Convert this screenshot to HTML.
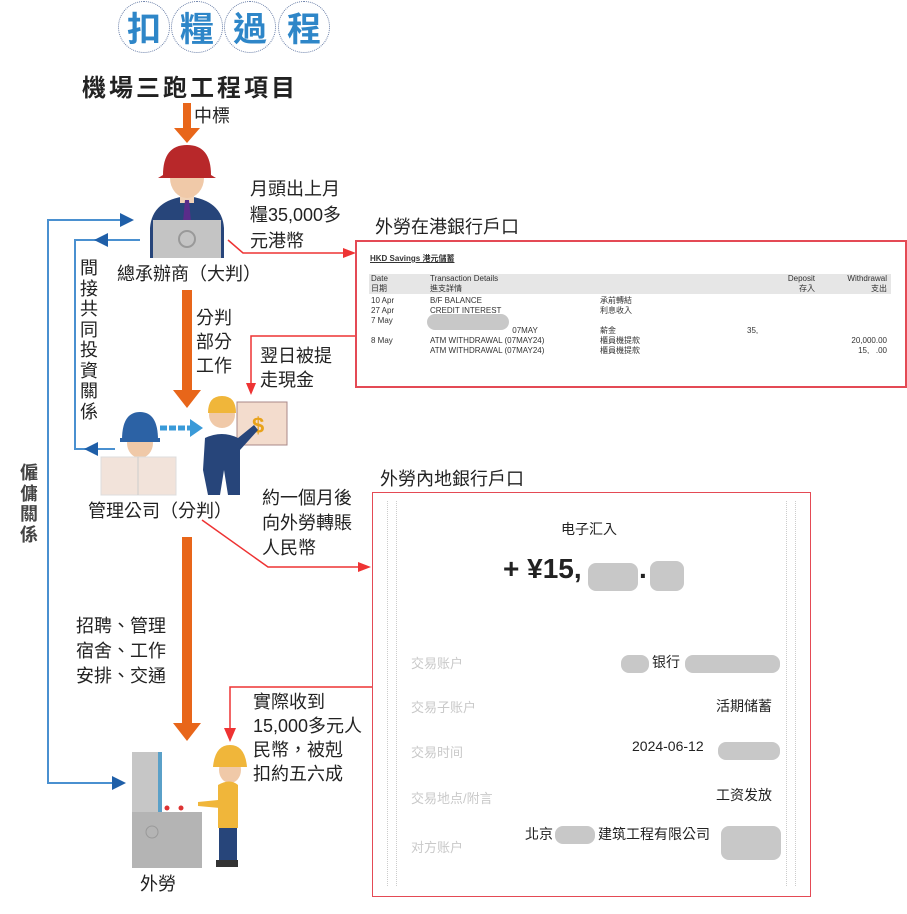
<!DOCTYPE html>
<html><head><meta charset="utf-8">
<style>
*{margin:0;padding:0;box-sizing:border-box}
body{width:907px;height:914px;background:#fff;position:relative;overflow:hidden;font-family:"Liberation Sans","Noto Sans CJK TC",sans-serif;color:#222}
.t{position:absolute;white-space:nowrap}
.c{font-size:18px;line-height:25px}
.circ{position:absolute;width:52px;height:52px;border-radius:50%;border:1px dotted #6a7fa8;color:#2e86c8;font-weight:bold;font-size:34px;text-align:center;line-height:50px;font-family:"Noto Sans CJK TC",sans-serif}
.box{position:absolute;border:2px solid #e44a55}
.sm{font-size:8px;line-height:10px;position:absolute;white-space:nowrap;color:#333}
.blur{position:absolute;background:#c8c8c8;border-radius:8px}
.g{color:#c9c9c9}
</style></head><body>
<div class="circ" style="left:118px;top:1px">扣</div>
<div class="circ" style="left:171px;top:1px">糧</div>
<div class="circ" style="left:224px;top:1px">過</div>
<div class="circ" style="left:278px;top:1px">程</div>

<div class="t" style="left:82px;top:68px;font-size:24px;font-weight:bold;letter-spacing:3px">機場三跑工程項目</div>
<div class="t c" style="left:194px;top:104px">中標</div>

<svg width="907" height="914" style="position:absolute;left:0;top:0">
<rect x="183" y="103" width="8" height="26" fill="#e8661a"/><polygon points="174,128 200,128 187,143" fill="#e8661a"/>
<rect x="182" y="290" width="10" height="102" fill="#e8661a"/><polygon points="173,390 201,390 187,408" fill="#e8661a"/>
<rect x="182" y="537" width="10" height="188" fill="#e8661a"/><polygon points="173,723 201,723 187,741" fill="#e8661a"/>
<polyline points="123,783 48,783 48,220 123,220" fill="none" stroke="#4a90d0" stroke-width="2"/>
<polygon points="120,213 134,220 120,227" fill="#1f5fa8"/>
<polygon points="112,776 126,783 112,790" fill="#1f5fa8"/>
<polyline points="140,240 75,240 75,449 115,449" fill="none" stroke="#4a90d0" stroke-width="2"/>
<polygon points="108,233 94,240 108,247" fill="#1f5fa8"/>
<polygon points="98,442 84,449 98,456" fill="#1f5fa8"/>
<line x1="160" y1="428" x2="192" y2="428" stroke="#3a9ad8" stroke-width="5" stroke-dasharray="7,2"/>
<polygon points="190,419 203,428 190,437" fill="#3a9ad8"/>
<polyline points="228,240 243,253 345,253" fill="none" stroke="#e33" stroke-width="1.5"/>
<polygon points="343,248 356,253 343,258" fill="#e33"/>
<polyline points="355,336 251,336 251,385" fill="none" stroke="#e33" stroke-width="1.5"/>
<polygon points="246,383 251,395 256,383" fill="#e33"/>
<polyline points="202,520 268,567 360,567" fill="none" stroke="#e33" stroke-width="1.5"/>
<polygon points="358,562 371,567 358,572" fill="#e33"/>
<polyline points="372,687 230,687 230,730" fill="none" stroke="#e33" stroke-width="1.5"/>
<polygon points="224,728 230,742 236,728" fill="#e33"/>
<path d="M150,258 L150,228 Q152,200 187,196 Q222,200 224,228 L224,258 Z" fill="#27457a"/>
<rect x="180" y="193" width="14" height="10" fill="#f1d3b8"/>
<polygon points="185,200 189,200 191,222 183,222" fill="#5a2c8a"/>
<ellipse cx="187" cy="178" rx="17" ry="20" fill="#f0c9a8"/>
<path d="M163,175 Q163,145 187,145 Q211,145 211,175 L216,178 L158,178 Z" fill="#b8282a"/>
<rect x="153" y="220" width="68" height="38" fill="#c4c4c4"/>
<circle cx="187" cy="239" r="8" fill="none" stroke="#999" stroke-width="2"/>
<ellipse cx="140" cy="443" rx="13" ry="15" fill="#f0c9a8"/>
<path d="M122,440 Q122,412 140,412 Q158,412 158,440 Z" fill="#2c62a5"/>
<rect x="120" y="438" width="40" height="4" fill="#2c62a5"/>
<path d="M118,490 L120,465 Q140,458 160,465 L162,490Z" fill="#27457a"/>
<rect x="101" y="457" width="75" height="38" fill="#f2e3da" stroke="#ddd"/>
<line x1="138" y1="457" x2="138" y2="495" stroke="#ccc"/>
<rect x="237" y="402" width="50" height="43" fill="#f3dccd" stroke="#a88"/>
<text x="252" y="433" font-size="22" font-weight="bold" fill="#e8a21a" font-family="Liberation Sans">$</text>
<ellipse cx="222" cy="415" rx="13" ry="13" fill="#f0c9a8"/>
<path d="M208,413 Q208,396 222,396 Q236,396 236,413 Z" fill="#f0b63a"/>
<path d="M203,470 L205,438 Q222,430 238,438 L254,425 L258,430 L240,450 L240,495 L228,495 L224,470 L220,495 L208,495 Z" fill="#27457a"/>
<rect x="132" y="752" width="30" height="62" fill="#c6c6c6"/>
<rect x="158" y="752" width="4" height="62" fill="#5aa0c8"/>
<rect x="132" y="812" width="70" height="56" fill="#b4b4b4"/>
<circle cx="167" cy="808" r="2.5" fill="#d33"/><circle cx="181" cy="808" r="2.5" fill="#d33"/>
<circle cx="152" cy="832" r="6" fill="none" stroke="#999"/>
<ellipse cx="230" cy="770" rx="11" ry="13" fill="#f0c9a8"/>
<path d="M213,767 Q215,745 230,745 Q245,745 247,767 Z" fill="#f0b63a"/>
<path d="M218,785 Q230,778 238,785 L238,828 L218,828 Z" fill="#f0b63a"/>
<path d="M218,800 L198,802 L198,806 L220,808Z" fill="#f0b63a"/>
<rect x="219" y="828" width="18" height="33" fill="#27457a"/>
<rect x="216" y="860" width="22" height="7" fill="#333"/>
</svg>

<div class="t c" style="left:250px;top:176px;line-height:26px">月頭出上月<br>糧35,000多<br>元港幣</div>
<div class="t c" style="left:117px;top:262px">總承辦商（大判）</div>
<div class="t c" style="left:80px;top:258px;line-height:20.5px;white-space:normal;width:20px">間接共同投資關係</div>
<div class="t c" style="left:20px;top:463px;line-height:20.5px;white-space:normal;width:20px;font-weight:bold;color:#444">僱傭關係</div>
<div class="t c" style="left:196px;top:306px;line-height:24px">分判<br>部分<br>工作</div>
<div class="t c" style="left:260px;top:344px;line-height:24px">翌日被提<br>走現金</div>
<div class="t c" style="left:88px;top:499px">管理公司（分判）</div>
<div class="t c" style="left:262px;top:486px;line-height:25px">約一個月後<br>向外勞轉賬<br>人民幣</div>
<div class="t c" style="left:76px;top:614px;line-height:25px">招聘、管理<br>宿舍、工作<br>安排、交通</div>
<div class="t c" style="left:253px;top:690px;line-height:24px">實際收到<br>15,000多元人<br>民幣，被剋<br>扣約五六成</div>
<div class="t c" style="left:140px;top:872px">外勞</div>

<div class="t c" style="left:375px;top:215px">外勞在港銀行戶口</div>
<div class="box" style="left:355px;top:240px;width:552px;height:148px">
 <div class="sm" style="left:13px;top:12px;font-weight:bold;text-decoration:underline">HKD Savings 港元儲蓄</div>
 <div style="position:absolute;left:12px;top:32px;width:522px;height:20px;background:#e6e6e6"></div>
 <div class="sm" style="left:14px;top:32px">Date<br>日期</div>
 <div class="sm" style="left:73px;top:32px">Transaction Details<br>進支詳情</div>
 <div class="sm" style="left:398px;top:32px;text-align:right;width:60px">Deposit<br>存入</div>
 <div class="sm" style="left:470px;top:32px;text-align:right;width:60px">Withdrawal<br>支出</div>
 <div class="sm" style="left:14px;top:54px;line-height:10px">10 Apr<br>27 Apr<br>7 May<br><br>8 May</div>
 <div class="sm" style="left:73px;top:54px;line-height:10px">B/F BALANCE<br>CREDIT INTEREST<br>&nbsp;<br>&nbsp;&nbsp;&nbsp;&nbsp;&nbsp;&nbsp;&nbsp;&nbsp;&nbsp;&nbsp;&nbsp;&nbsp;&nbsp;&nbsp;&nbsp;&nbsp;&nbsp;&nbsp;&nbsp;&nbsp;&nbsp;&nbsp;&nbsp;&nbsp;&nbsp;&nbsp;&nbsp;&nbsp;&nbsp;&nbsp;&nbsp;&nbsp;&nbsp;&nbsp;&nbsp;&nbsp;&nbsp;07MAY<br>ATM WITHDRAWAL (07MAY24)<br>ATM WITHDRAWAL (07MAY24)</div>
 <div class="sm" style="left:243px;top:54px;line-height:10px">承前轉結<br>利息收入<br>&nbsp;<br>薪金<br>櫃員機提款<br>櫃員機提款</div>
 <div class="blur" style="left:70px;top:72px;width:82px;height:16px"></div>
 <div class="sm" style="left:390px;top:84px">35,</div>
 <div class="sm" style="left:456px;top:94px;line-height:10px;text-align:right;width:74px">20,000.00<br>15,&nbsp;&nbsp;&nbsp;.00</div>
</div>

<div class="t c" style="left:380px;top:467px">外勞內地銀行戶口</div>
<div class="box" style="left:372px;top:492px;width:439px;height:405px;border-width:1.5px">
 <div style="position:absolute;left:14px;top:8px;width:10px;height:385px;border-left:1px dotted #ccc;border-right:1px dotted #ccc"></div>
 <div style="position:absolute;left:413px;top:8px;width:10px;height:385px;border-left:1px dotted #ccc;border-right:1px dotted #ccc"></div>
 <div class="t" style="left:188px;top:26px;font-size:14px">电子汇入</div>
 <div class="t" style="left:130px;top:60px;font-size:28px;font-weight:bold">+ ¥15,</div>
 <div class="blur" style="left:215px;top:70px;width:50px;height:28px"></div>
 <div class="t" style="left:266px;top:60px;font-size:28px;font-weight:bold">.</div>
 <div class="blur" style="left:277px;top:68px;width:34px;height:30px"></div>
 <div class="t g" style="left:38px;top:160px;font-size:13px">交易账户</div>
 <div class="blur" style="left:248px;top:162px;width:28px;height:18px"></div>
 <div class="t" style="left:279px;top:159px;font-size:14px">银行</div>
 <div class="blur" style="left:312px;top:162px;width:95px;height:18px"></div>
 <div class="t g" style="left:38px;top:204px;font-size:13px">交易子账户</div>
 <div class="t" style="left:343px;top:203px;font-size:14px">活期储蓄</div>
 <div class="t g" style="left:38px;top:249px;font-size:13px">交易时间</div>
 <div class="t" style="left:259px;top:245px;font-size:14px">2024-06-12</div>
 <div class="blur" style="left:345px;top:249px;width:62px;height:18px"></div>
 <div class="t g" style="left:38px;top:295px;font-size:13px">交易地点/附言</div>
 <div class="t" style="left:343px;top:292px;font-size:14px">工资发放</div>
 <div class="t g" style="left:38px;top:344px;font-size:13px">对方账户</div>
 <div class="t" style="left:152px;top:331px;font-size:14px">北京</div>
 <div class="blur" style="left:182px;top:333px;width:40px;height:18px"></div>
 <div class="t" style="left:225px;top:331px;font-size:14px">建筑工程有限公司</div>
 <div class="blur" style="left:348px;top:333px;width:60px;height:34px"></div>
</div>
</body></html>
